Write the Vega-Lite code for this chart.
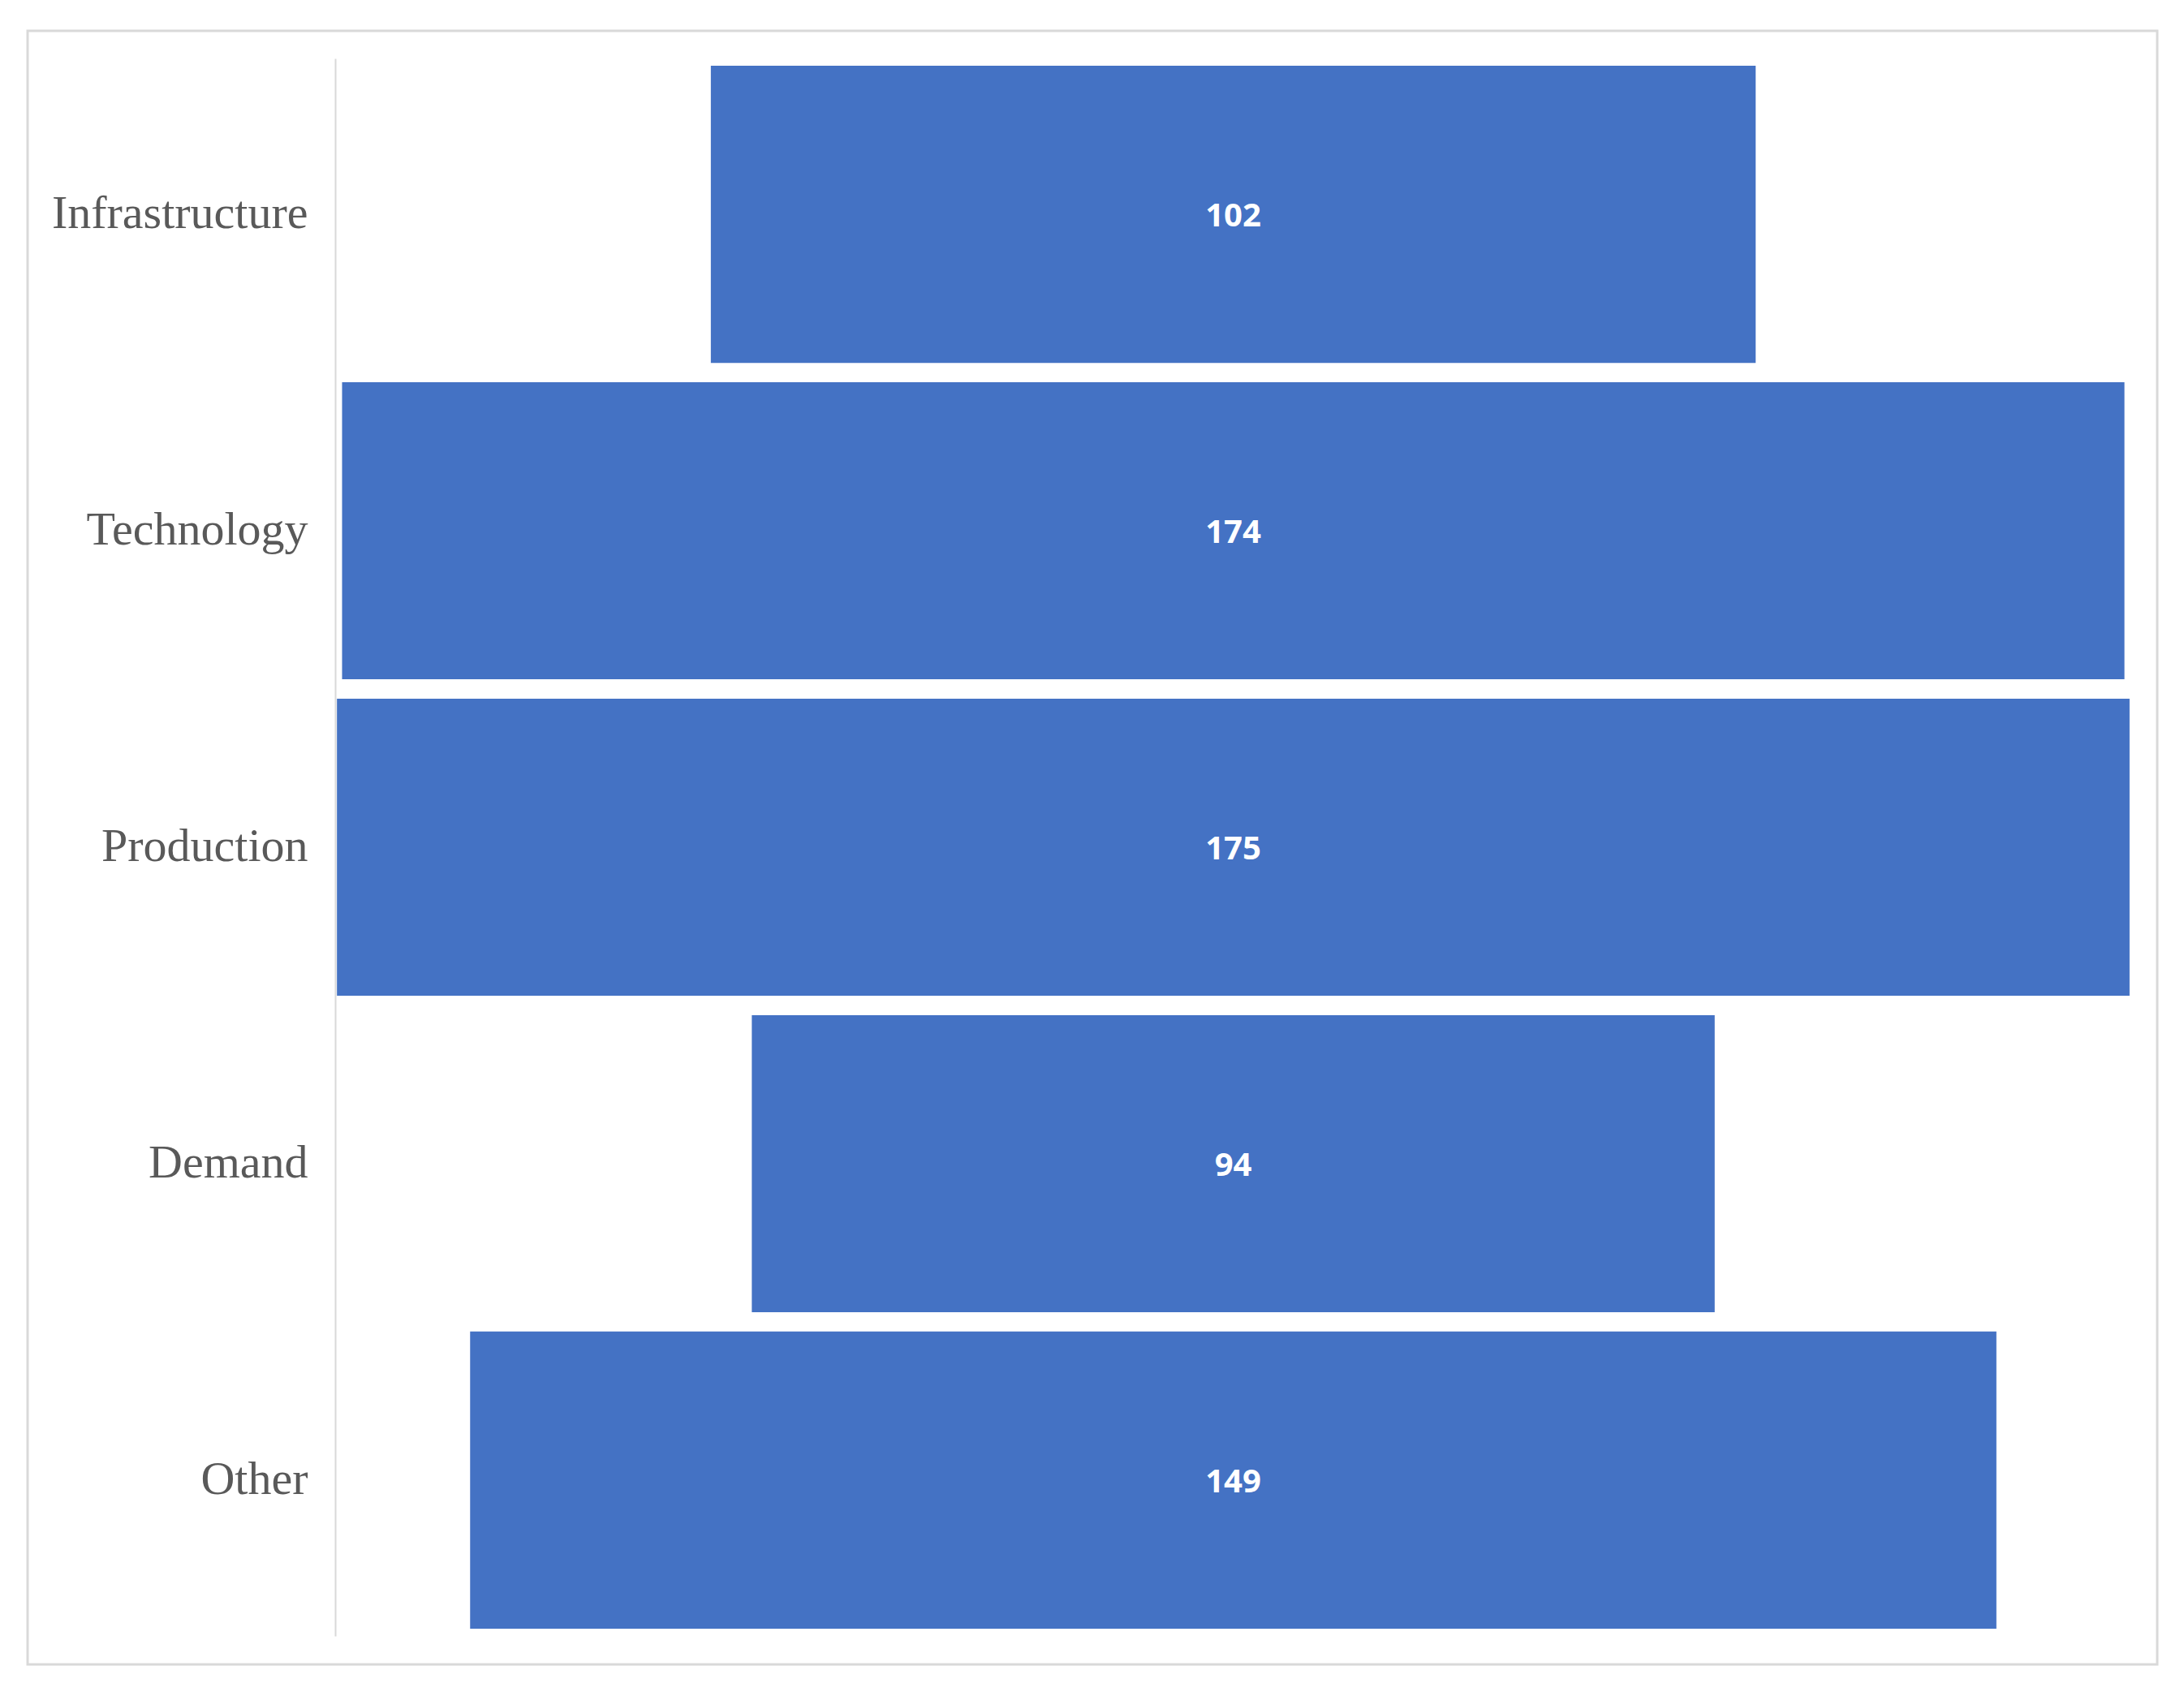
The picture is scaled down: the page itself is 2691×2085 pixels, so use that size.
{
  "$schema": "https://vega.github.io/schema/vega-lite/v6.json",
  "width": 2624,
  "height": 2013,
  "autosize": {"type": "none"},
  "padding": {"left": 34, "top": 38, "right": 33, "bottom": 34},
  "background": "white",
  "config": {"view": {"stroke": "#d9d9d9", "strokeWidth": 3}},
  "data": {
    "values": [
      {"stage": "Infrastructure", "value": 102},
      {"stage": "Technology", "value": 174},
      {"stage": "Production", "value": 175},
      {"stage": "Demand", "value": 94},
      {"stage": "Other", "value": 149}
    ]
  },
  "encoding": {
    "y": {
      "field": "stage",
      "type": "nominal",
      "sort": null,
      "scale": {"range": [34, 1978], "paddingInner": 0.061, "paddingOuter": 0.023},
      "axis": {
        "title": null,
        "offset": -379,
        "ticks": false,
        "grid": false,
        "domain": true,
        "domainColor": "#d9d9d9",
        "domainWidth": 2,
        "labelFont": "Liberation Serif",
        "labelFontSize": 58,
        "labelColor": "#595959",
        "labelPadding": 34,
        "labelAlign": "right",
        "labelBaseline": "middle",
        "labelLimit": 0
      }
    }
  },
  "layer": [
    {
      "mark": {"type": "bar", "color": "#4472C4"},
      "encoding": {
        "x": {
          "field": "value",
          "type": "quantitative",
          "stack": "center",
          "scale": {"domain": [-30.2, 177.7], "nice": false, "zero": false},
          "axis": null
        }
      }
    },
    {
      "mark": {"type": "text", "color": "white", "font": "Open Sans", "fontWeight": 700, "fontSize": 40, "align": "center", "baseline": "middle", "dy": 3},
      "encoding": {
        "x": {"datum": 87.5},
        "text": {"field": "value", "type": "quantitative"}
      }
    }
  ]
}
